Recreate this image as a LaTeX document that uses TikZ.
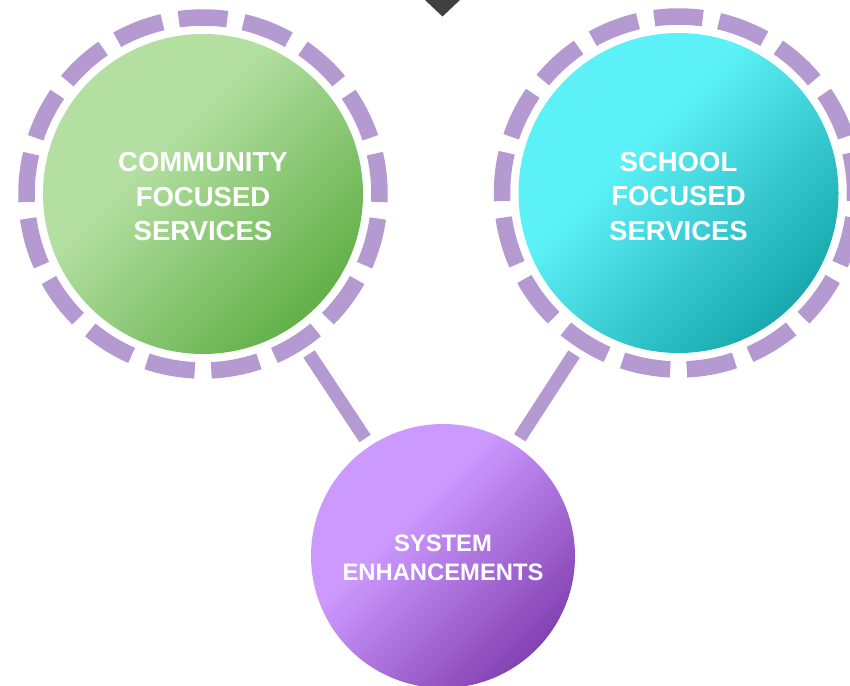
\documentclass[tikz,border=0pt]{standalone}
\usepackage{fontspec}
\setmainfont{Liberation Sans}
\usetikzlibrary{calc}
\definecolor{ringc}{HTML}{B599D1}
\definecolor{tric}{HTML}{404040}
\definecolor{gl}{HTML}{B3DFA1}
\definecolor{gd}{HTML}{62B048}
\definecolor{cl}{HTML}{5CF1F7}
\definecolor{cd}{HTML}{18A8AE}
\definecolor{pl}{HTML}{CC99FF}
\definecolor{pd}{HTML}{8341B1}
\pgfdeclarehorizontalshading{greensh}{100bp}{color(0bp)=(gl); color(40bp)=(gl); color(75bp)=(gd); color(100bp)=(gd)}
\pgfdeclarehorizontalshading{cyansh}{100bp}{color(0bp)=(cl); color(40bp)=(cl); color(75bp)=(cd); color(100bp)=(cd)}
\pgfdeclarehorizontalshading{purplesh}{100bp}{color(0bp)=(pl); color(40bp)=(pl); color(75bp)=(pd); color(100bp)=(pd)}
\begin{document}
\begin{tikzpicture}[x=1pt,y=-1pt,
  bigc/.style={circle, inner sep=0pt, minimum size=#1, shading angle=-45},
  bigtxt/.style={text=white, font=\bfseries\fontsize{27.5}{34.5}\selectfont, align=center, inner sep=0pt},
  smalltxt/.style={text=white, font=\bfseries\fontsize{23.8}{29}\selectfont, align=center, inner sep=0pt},
  ringdash/.style={draw=ringc, line width=16.5pt},
  conn/.style={draw=ringc, line width=13.5pt}]
\useasboundingbox (0,0) rectangle (850,685);
\node[bigc=320pt, shading=greensh] (comm) at (203,194) {};
\node[bigc=320pt, shading=cyansh] (school) at (678.5,193) {};
\node[bigc=264pt, shading=purplesh] (sys) at (443,556) {};
\node[bigtxt] (commtxt) at ($(comm.center)+(0,3)$) {COMMUNITY\\FOCUSED\\SERVICES};
\node[bigtxt] (schooltxt) at ($(school.center)+(0,3.5)$) {SCHOOL\\FOCUSED\\SERVICES};
\node[smalltxt] (systxt) at ($(sys.center)+(0,2)$) {SYSTEM\\ENHANCEMENTS};
\foreach \c in {comm,school}{
  \foreach \i in {0,...,16}{
    \pgfmathsetmacro\a{90-\i*360/17}
    \draw[ringdash] ([shift={(\a+7.9:176.5pt)}]\c.center) arc[start angle=\a+7.9, end angle=\a-7.9, radius=176.5pt];
  }
}
\draw[conn] ($(comm.center)!192pt!(sys.center)$) -- ($(sys.center)!141pt!(comm.center)$);
\draw[conn] ($(school.center)!192pt!(sys.center)$) -- ($(sys.center)!141pt!(school.center)$);
\fill[tric] (425,0) -- (460,0) -- (442.5,16.5) -- cycle;
\end{tikzpicture}
\end{document}
